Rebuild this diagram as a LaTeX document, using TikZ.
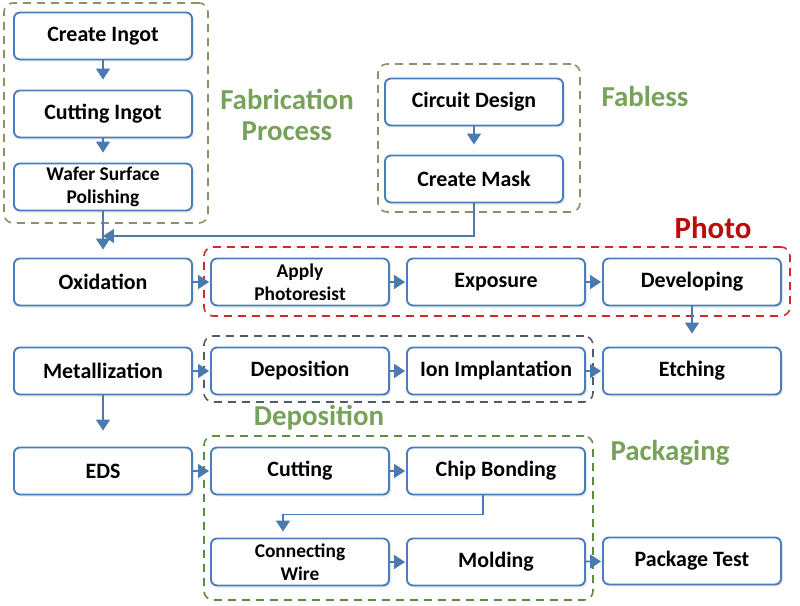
\documentclass[tikz,border=0pt]{standalone}
\usepackage{fontspec}
\setmainfont{Carlito}
\usetikzlibrary{arrows.meta,shadows,fit}
\definecolor{boxblue}{HTML}{4A7EBB}
\definecolor{flowblue}{HTML}{4A7AAE}
\definecolor{olivedash}{HTML}{8E9164}
\definecolor{reddash}{HTML}{D02A2A}
\definecolor{greydash}{HTML}{505C68}
\definecolor{greendash}{HTML}{5E8C40}
\definecolor{labgreen}{HTML}{76A25A}
\definecolor{labred}{HTML}{B80D0D}
\tikzset{
	flow/.style={-{Triangle[length=11pt 0,width=14pt 0,color=flowblue]},color=flowblue,line width=1.6bp,shorten >=1bp}
}
\begin{document}
\begin{tikzpicture}[x=1bp,y=-1bp]
	\def \colone{103}
	\def \coltwo{300}
	\def \colthree{496}
	\def \colfour{692}
	\def \rowox{282}
	\def \rowmet{371}
	\def \roweds{471}
	\def \rowmold{562}
	\tikzstyle{p-node}=[rectangle,rounded corners=6bp,draw=boxblue,line width=1.9bp,fill=white,
		minimum width=178bp,minimum height=47bp,align=center,inner sep=2bp,
		drop shadow={opacity=0.18,shadow xshift=2bp,shadow yshift=-2bp},
		font=\fontsize{22}{26}\selectfont\bfseries]
	\tikzstyle{p-small}=[p-node,font=\fontsize{19.5}{23}\selectfont\bfseries]
	\tikzstyle{group}=[rectangle,rounded corners=9bp,line width=1.6bp,dash pattern=on 8bp off 6bp,inner sep=0pt]
	\tikzstyle{annot}=[align=center,font=\fontsize{29}{32}\selectfont\bfseries]
	\useasboundingbox (0,0) rectangle (800,606);

	% group frames
	\node[group,draw=olivedash,fit={(4,3) (208,223)}]		(fab-box)	{};
	\node[group,draw=olivedash,fit={(378,64) (580,212)}]	(fabless-box)	{};
	\node[group,draw=reddash,fit={(204,247) (790,316)}]		(photo-box)	{};
	\node[group,draw=greydash,fit={(204,336) (593,402)}]	(dep-box)	{};
	\node[group,draw=greendash,fit={(204,436) (593,600)}]	(pack-box)	{};

	% labels
	\node[annot,text=labgreen] 	(fab-label)	at (287,115)	{Fabrication\\Process};
	\node[annot,text=labgreen] 	(fabless-label)	at (645,96)	{Fabless};
	\node[annot,text=labred,font=\fontsize{31}{34}\selectfont\bfseries] 	(photo-label)	at (713,228)	{Photo};
	\node[annot,text=labgreen] 	(dep-label)	at (319,418)	{Deposition};
	\node[annot,text=labgreen] 	(pack-label)	at (670,453)	{Packaging};

	% fabrication
	\node[p-node] 	(ingot)	at (\colone,36)		{Create Ingot};
	\node[p-node] 	(cut-ingot)	at (\colone,114)	{Cutting Ingot};
	\node[p-small] 	(wafer)	at (\colone,187)	{Wafer Surface\\Polishing};

	% fabless
	\node[p-node] 	(design)	at (474,102)	{Circuit Design};
	\node[p-node] 	(mask)	at (474,179)	{Create Mask};

	% photo row
	\node[p-node] 	(oxid)	at (\colone,\rowox)	{Oxidation};
	\node[p-small] 	(resist)	at (\coltwo,\rowox)	{Apply\\Photoresist};
	\node[p-node] 	(expo)	at (\colthree,\rowox)	{Exposure};
	\node[p-node] 	(devel)	at (\colfour,\rowox)	{Developing};

	% deposition row
	\node[p-node] 	(metal)	at (\colone,\rowmet)	{Metallization};
	\node[p-node] 	(depos)	at (\coltwo,\rowmet)	{Deposition};
	\node[p-node] 	(ion)	at (\colthree,\rowmet)	{Ion Implantation};
	\node[p-node] 	(etch)	at (\colfour,\rowmet)	{Etching};

	% packaging
	\node[p-node] 	(eds)	at (\colone,\roweds)	{EDS};
	\node[p-node] 	(cutting)	at (\coltwo,\roweds)	{Cutting};
	\node[p-node] 	(chip)	at (\colthree,\roweds)	{Chip Bonding};
	\node[p-small] 	(wire)	at (\coltwo,\rowmold)	{Connecting\\Wire};
	\node[p-node] 	(mold)	at (\colthree,\rowmold)	{Molding};
	\node[p-node] 	(test)	at (\colfour,561)	{Package Test};

	\coordinate (merge) at (\colone,236);

	\path[flow]
		(ingot)	edge[shorten >=10bp]	(cut-ingot)
		(cut-ingot)	edge[shorten >=10bp]	(wafer)
		(design)	edge[shorten >=10bp]	(mask)
		(wafer)	edge[shorten >=8bp]	(oxid)
		%
		(oxid)	edge	(resist)
		(resist)	edge	(expo)
		(expo)	edge	(devel)
		(devel)	edge[shorten >=13bp]	(etch)
		%
		(metal)	edge	(depos)
		(depos)	edge	(ion)
		(ion)	edge	(etch)
		(metal)	edge[shorten >=16bp]	(eds)
		%
		(eds)	edge	(cutting)
		(cutting)	edge	(chip)
		(wire)	edge	(mold)
		(mold)	edge	(test);

	\draw[flow,shorten >=0bp] (mask.south) |- (merge);
	\draw[flow,shorten >=6bp] ([xshift=-13bp]chip.south) -- ++(0,19) -| ([xshift=-17bp]wire.north);
\end{tikzpicture}
\end{document}
